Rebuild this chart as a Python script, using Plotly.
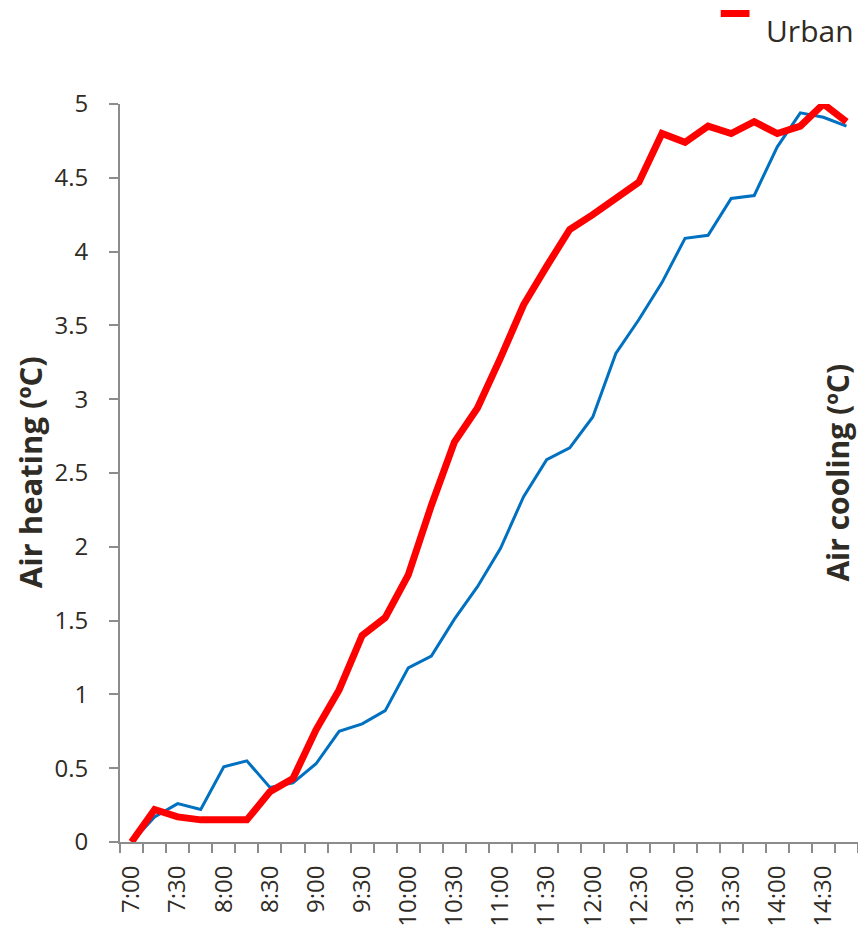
import plotly.graph_objects as go

times = ["7:00", "7:15", "7:30", "7:45", "8:00", "8:15", "8:30", "8:45",
         "9:00", "9:15", "9:30", "9:45", "10:00", "10:15", "10:30", "10:45",
         "11:00", "11:15", "11:30", "11:45", "12:00", "12:15", "12:30", "12:45",
         "13:00", "13:15", "13:30", "13:45", "14:00", "14:15", "14:30", "14:45"]

urban = [0, 0.22, 0.17, 0.15, 0.15, 0.15, 0.34, 0.43, 0.76, 1.03, 1.40, 1.52,
         1.81, 2.28, 2.71, 2.94, 3.28, 3.64, 3.90, 4.15, 4.25, 4.36, 4.47, 4.80,
         4.74, 4.85, 4.80, 4.88, 4.80, 4.85, 5.00, 4.88]

other = [0, 0.17, 0.26, 0.22, 0.51, 0.55, 0.37, 0.40, 0.53, 0.75, 0.80, 0.89,
         1.18, 1.26, 1.51, 1.73, 1.99, 2.34, 2.59, 2.67, 2.88, 3.31, 3.54, 3.79,
         4.09, 4.11, 4.36, 4.38, 4.71, 4.94, 4.91, 4.85]

tick_text = [t if i % 2 == 0 else "" for i, t in enumerate(times)]

FONT = "Open Sans"
AXIS_COLOR = "#8c8c8c"
TEXT_COLOR = "#2f2b25"

fig = go.Figure()
fig.add_trace(go.Scatter(x=times, y=other, mode="lines", name="Other",
                         line=dict(color="#0070C0", width=3), showlegend=False))
fig.add_trace(go.Scatter(x=times, y=urban, mode="lines", name="Urban",
                         line=dict(color="#FF0000", width=7), showlegend=False))

fig.update_layout(
    width=858, height=938,
    margin=dict(l=120, r=0, t=104, b=96),
    paper_bgcolor="white", plot_bgcolor="white",
    font=dict(family=FONT, color=TEXT_COLOR, size=24),
    showlegend=False,
)

fig.update_xaxes(
    type="category", categoryorder="array", categoryarray=times,
    range=[-0.5, len(times) - 0.5],
    tickmode="array", tickvals=times, ticktext=tick_text,
    tickson="boundaries", ticks="outside", ticklen=9, tickwidth=2,
    tickcolor=AXIS_COLOR, tickangle=-90,
    showline=True, linecolor=AXIS_COLOR, linewidth=2,
    showgrid=False, zeroline=False,
    tickfont=dict(size=24, color=TEXT_COLOR, family=FONT),
    ticklabelstandoff=12,
)

fig.update_yaxes(
    range=[0, 5], dtick=0.5, tick0=0,
    ticks="outside", ticklen=9, tickwidth=2, tickcolor=AXIS_COLOR,
    showline=True, linecolor=AXIS_COLOR, linewidth=2,
    showgrid=False, zeroline=False,
    tickfont=dict(size=24, color=TEXT_COLOR, family=FONT),
    ticklabelstandoff=16,
)

# y-axis title
fig.add_annotation(text="<b>Air heating (ºC)</b>", xref="paper", yref="paper",
                   x=-0.122, y=0.501, textangle=-90, showarrow=False,
                   xanchor="center", yanchor="middle",
                   font=dict(size=31, color=TEXT_COLOR, family=FONT))
# secondary title (at the cropped chart edge)
fig.add_annotation(text="<b>Air cooling (ºC)</b>", xref="paper", yref="paper",
                   x=0.972, y=0.501, textangle=-90, showarrow=False,
                   xanchor="center", yanchor="middle",
                   font=dict(size=30, color=TEXT_COLOR, family=FONT))

# legend entry
fig.add_shape(type="line", xref="paper", yref="paper",
              x0=0.814, x1=0.853, y0=1.1226, y1=1.1226,
              line=dict(color="#FF0000", width=7))
fig.add_annotation(text="Urban", xref="paper", yref="paper",
                   x=0.872, y=1.099, showarrow=False,
                   xanchor="left", yanchor="middle",
                   font=dict(size=30, color=TEXT_COLOR, family=FONT))

fig.write_html("out.html",
               config={"displayModeBar": False},
               post_script="document.body.style.margin='0';"
                           "document.body.style.overflow='hidden';")
